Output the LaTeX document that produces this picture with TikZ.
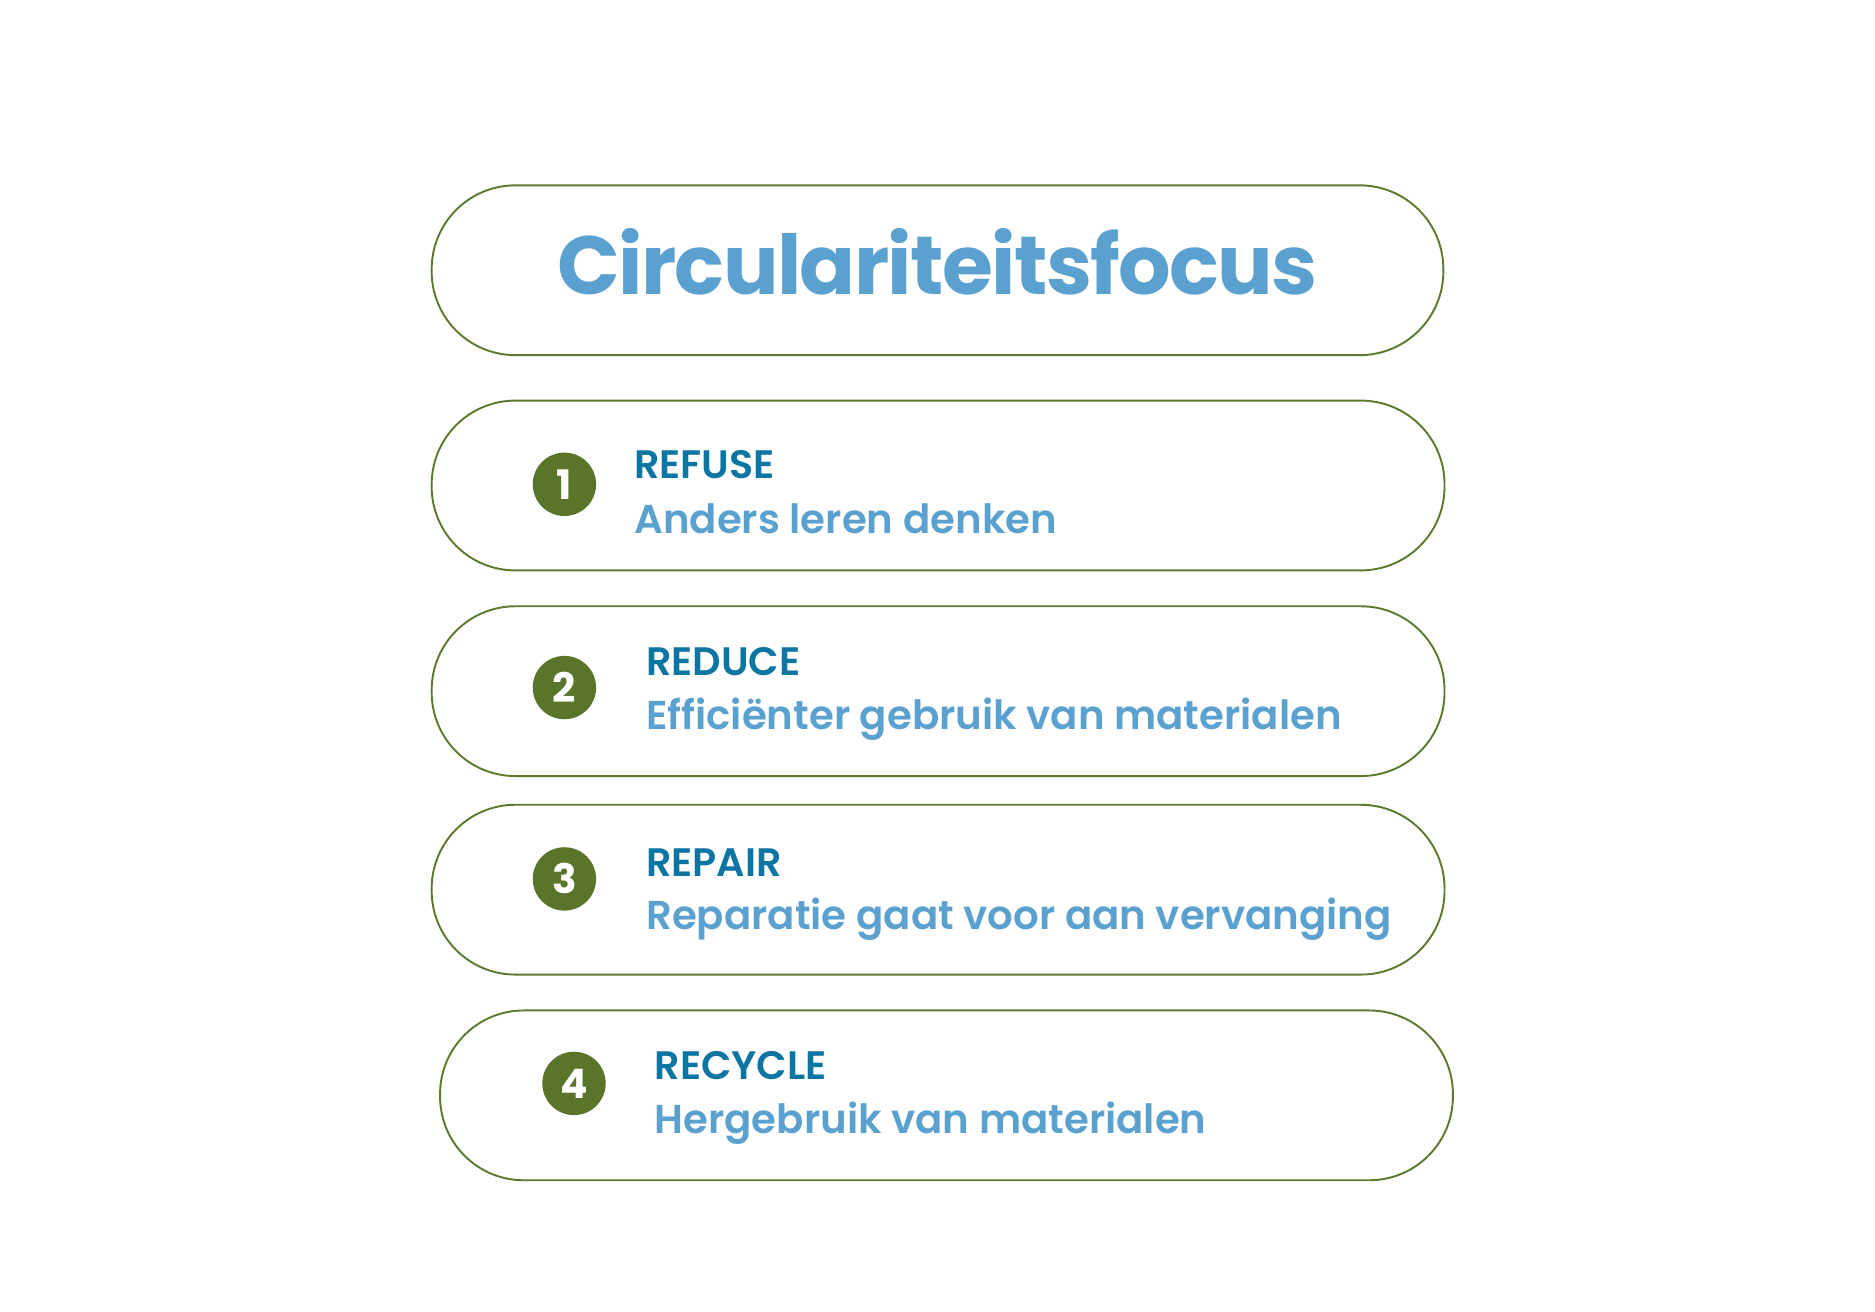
\documentclass[tikz,border=0pt]{standalone}
\usepackage{fontspec}
\setmainfont{Poppins}
\newfontfamily\psemi{Poppins SemiBold}
\newfontfamily\pbold{Poppins Bold}
\newfontfamily\ptitle{Poppins Bold}[LetterSpace=-2]
\definecolor{olive}{HTML}{5B7A2E}
\definecolor{dotgreen}{HTML}{58752A}
\definecolor{lightblue}{HTML}{5BA1CF}
\definecolor{darkblue}{HTML}{0C75A1}
\begin{document}
\begin{tikzpicture}[x=0.5pt,y=-0.5pt,
  pill/.style={draw=olive,line width=0.8pt,rounded corners=35pt},
  numdot/.style={circle,fill=dotgreen,minimum size=26.5pt,inner sep=0pt,text=white,font=\pbold\fontsize{17}{17}\selectfont},
  headtxt/.style={anchor=base west,inner sep=0pt,text=darkblue,font=\psemi\fontsize{16.6}{16.6}\selectfont},
  subtxt/.style={anchor=base west,inner sep=0pt,text=lightblue,font=\psemi\fontsize{16.85}{16.85}\selectfont},
  titletxt/.style={anchor=base,inner sep=0pt,text=lightblue,font=\ptitle\fontsize{34.5}{34.5}\selectfont}]
\useasboundingbox (0,0) rectangle (1568,1097);
% boxes
\draw[pill] (361,155) rectangle (1207,297);
\draw[pill] (361,335) rectangle (1208,477);
\draw[pill] (361,507) rectangle (1208,649);
\draw[pill] (361,673) rectangle (1208,815);
\draw[pill] (368,845) rectangle (1215,987);
% title
\node[titletxt] (title) at (784,246) {Circulariteitsfocus};
% items
\node[numdot] (n1) at (472,405) {1};
\node[headtxt] (h1) at (530,400) {REFUSE};
\node[subtxt] (s1) at (530,446) {Anders leren denken};
\node[numdot] (n2) at (472,575) {2};
\node[headtxt] (h2) at (540,565) {REDUCE};
\node[subtxt] (s2) at (540,610) {Efficiënter gebruik van materialen};
\node[numdot] (n3) at (472,735) {3};
\node[headtxt] (h3) at (540,733) {REPAIR};
\node[subtxt] (s3) at (540,777) {Reparatie gaat voor aan vervanging};
\node[numdot] (n4) at (480,906) {4};
\node[headtxt] (h4) at (547,903) {RECYCLE};
\node[subtxt] (s4) at (547,948) {Hergebruik van materialen};
\end{tikzpicture}
\end{document}
